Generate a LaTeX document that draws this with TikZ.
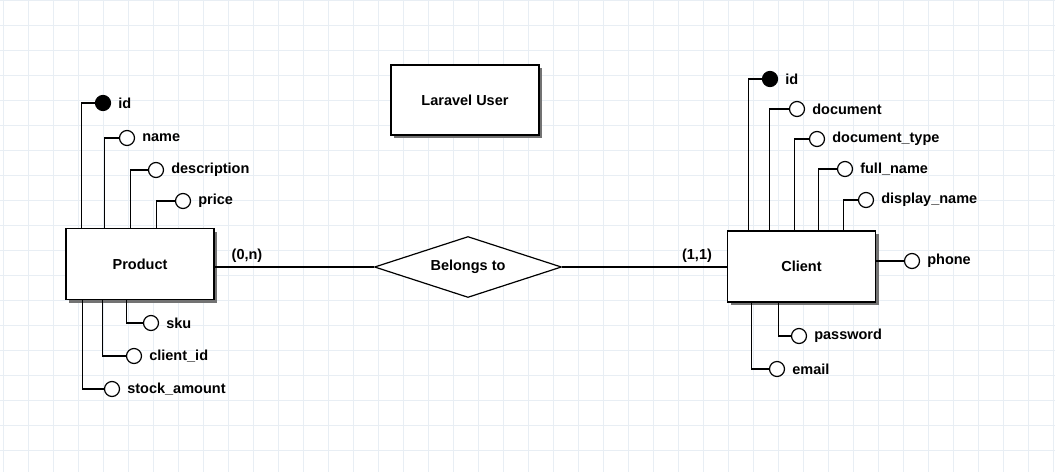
\documentclass[tikz,border=0pt]{standalone}
\usepackage{fontspec}
\setmainfont{Liberation Sans}
\usetikzlibrary{positioning,shapes.geometric,shadows}
\definecolor{gridblue}{HTML}{E8EEF4}
\newcommand{\erfont}{\bfseries\fontsize{14.5}{16}\selectfont}
\tikzset{
  entity/.style={draw, line width=1.3pt, fill=white, minimum width=148pt, minimum height=71pt,
    drop shadow={shadow xshift=3pt, shadow yshift=-3pt, fill=black!55, opacity=1}, font=\erfont},
  relation/.style={diamond, draw, line width=1.2pt, fill=white, shape aspect=3,
    minimum width=187pt, minimum height=61pt, inner sep=0pt, font=\erfont},
  attr/.style={circle, draw, line width=1.2pt, fill=white, minimum size=15pt, inner sep=0pt},
  keyattr/.style={attr, fill=black},
  attrtxt/.style={font=\erfont, inner sep=1pt},
  link/.style={line width=1.2pt}
}
\begin{document}
\begin{tikzpicture}[x=1pt, y=-1pt]
  %%%%% GRID %%%%%
  \useasboundingbox (0,0) rectangle (1055,472);
  \fill[white] (0,0) rectangle (1055,472);
  \foreach \gx in {3,28,...,1053}
    \draw[gridblue, line width=1pt] (\gx,0) -- (\gx,472);
  \foreach \gy in {0,25,...,450}
    \draw[gridblue, line width=1pt] (0,\gy) -- (1055,\gy);

  %%%%% ENTITIES %%%%%
  \node[entity] (prod) at (140,264) {Product};
  \node[entity] (client) at (801.5,266.5) {Client};
  \node[entity, minimum height=70pt] (laravel) at (465,100) {Laravel User};

  %%%%% RELATION %%%%%
  \node[relation] (belongs) at (468,267) {Belongs to};
  \draw[link] (prod.east |- belongs) -- (belongs.west);
  \draw[link] (belongs.east) -- (client.west |- belongs);
  \node[attrtxt] (card1) at (247,256) {(0,n)};
  \node[attrtxt] (card2) at (697,256) {(1,1)};

  %%%%% PRODUCT ATTRIBUTES %%%%%
  \node[keyattr] (pid) at (103,103) {};
  \node[attr] (pname) at (127,138) {};
  \node[attr] (pdesc) at (156,170) {};
  \node[attr] (pprice) at (183,201) {};
  \node[attr] (psku) at (151,323) {};
  \node[attr] (pclient) at (134,356) {};
  \node[attr] (pstock) at (112,389) {};

  \draw[link] (pid) -| ([xshift=16pt]prod.north west);
  \draw[link] (pname) -| ([xshift=39pt]prod.north west);
  \draw[link] (pdesc) -| ([xshift=65pt]prod.north west);
  \draw[link] (pprice) -| ([xshift=91pt]prod.north west);
  \draw[link] (psku) -| ([xshift=61pt]prod.south west);
  \draw[link] (pclient) -| ([xshift=37pt]prod.south west);
  \draw[link] (pstock) -| ([xshift=17pt]prod.south west);

  \node[attrtxt, right=6pt of pid] (tpid) {id};
  \node[attrtxt, right=6pt of pname] (tpname) {name};
  \node[attrtxt, right=6pt of pdesc] (tpdesc) {description};
  \node[attrtxt, right=6pt of pprice] (tpprice) {price};
  \node[attrtxt, right=6pt of psku] (tpsku) {sku};
  \node[attrtxt, right=6pt of pclient] (tpclient) {client\_id};
  \node[attrtxt, right=6pt of pstock] (tpstock) {stock\_amount};

  %%%%% CLIENT ATTRIBUTES %%%%%
  \node[keyattr] (cid) at (770,79) {};
  \node[attr] (cdoc) at (797,109) {};
  \node[attr] (ctype) at (817,139) {};
  \node[attr] (cfull) at (845,169) {};
  \node[attr] (cdisp) at (866,200) {};
  \node[attr] (cphone) at (912,261) {};
  \node[attr] (cpass) at (799,336) {};
  \node[attr] (cemail) at (777,369) {};

  \draw[link] (cid) -| ([xshift=22pt]client.north west);
  \draw[link] (cdoc) -| ([xshift=43pt]client.north west);
  \draw[link] (ctype) -| ([xshift=68pt]client.north west);
  \draw[link] (cfull) -| ([xshift=92pt]client.north west);
  \draw[link] (cdisp) -| ([xshift=117pt]client.north west);
  \draw[link] (client.east |- cphone) -- (cphone);
  \draw[link] (cpass) -| ([xshift=52pt]client.south west);
  \draw[link] (cemail) -| ([xshift=25pt]client.south west);

  \node[attrtxt, right=6pt of cid] (tcid) {id};
  \node[attrtxt, right=6pt of cdoc] (tcdoc) {document};
  \node[attrtxt, right=6pt of ctype] (tctype) {document\_type};
  \node[attrtxt, right=6pt of cfull] (tcfull) {full\_name};
  \node[attrtxt, right=6pt of cdisp] (tcdisp) {display\_name};
  \node[attrtxt, right=6pt of cphone] (tcphone) {phone};
  \node[attrtxt, right=6pt of cpass] (tcpass) {password};
  \node[attrtxt, right=6pt of cemail] (tcemail) {email};
\end{tikzpicture}
\end{document}
